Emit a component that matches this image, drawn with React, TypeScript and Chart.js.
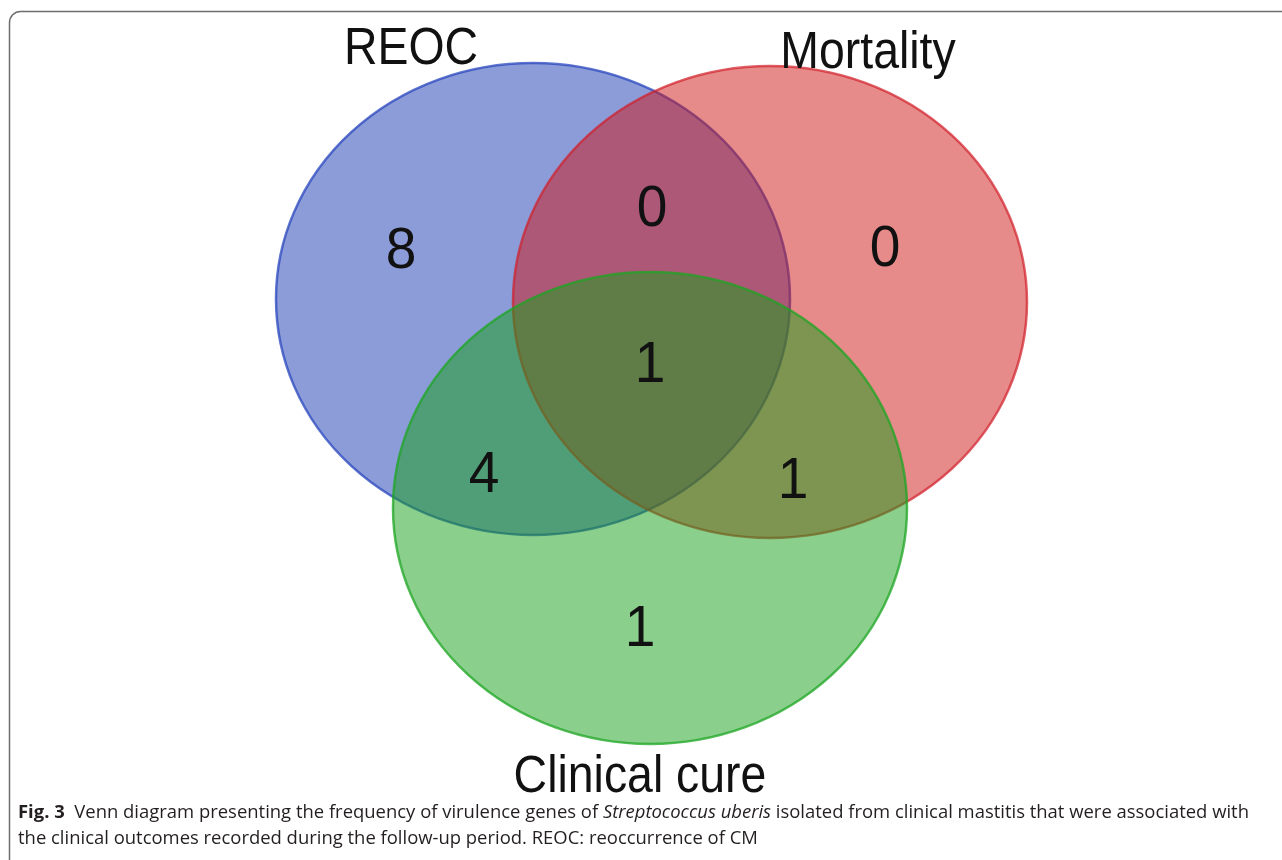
import { useEffect, useRef } from 'react';
import { Chart, registerables } from 'chart.js';

Chart.register(...registerables);

// ---- Sets (ellipses) ----
const setNames = ['REOC', 'Mortality', 'Clinical cure'];
const setCenterX = [533, 770, 650];
const setCenterY = [299, 302, 508];
const setRadiusX = [257, 257, 257];
const setRadiusY = [236, 236, 236];
const setFill = ['rgba(25,57,177,0.5)', 'rgba(205,21,21,0.5)', 'rgba(21,161,25,0.5)'];
const setStroke = ['rgba(40,70,190,0.75)', 'rgba(210,30,40,0.7)', 'rgba(30,165,35,0.75)'];
const setLabelX = [411, 868, 640];
const setLabelY = [64, 68, 792];

// ---- Regions (counts) ----
const regionNames = [
  'REOC only',
  'REOC & Mortality',
  'Mortality only',
  'REOC & Mortality & Clinical cure',
  'REOC & Clinical cure',
  'Mortality & Clinical cure',
  'Clinical cure only',
];
const regionCounts = [8, 0, 0, 1, 4, 1, 1];
const regionX = [401, 652, 885, 650, 484, 793, 640];
const regionY = [248, 206, 246, 362, 472, 478, 626];

// ---- Caption ----
const captionLine1 = [
  { text: 'Fig. 3', weight: 'bold', style: 'normal' },
  { text: '  Venn diagram presenting the frequency of virulence genes of ', weight: 'normal', style: 'normal' },
  { text: 'Streptococcus uberis', weight: 'normal', style: 'italic' },
  { text: ' isolated from clinical mastitis that were associated with', weight: 'normal', style: 'normal' },
];
const captionLine2 = [
  { text: 'the clinical outcomes recorded during the follow-up period. REOC: reoccurrence of CM', weight: 'normal', style: 'normal' },
];

const vennPlugin = {
  id: 'venn',
  beforeDatasetsDraw(chart: any) {
    const ctx = chart.ctx;
    const xs = chart.scales.x;
    const ys = chart.scales.y;
    // frame
    ctx.save();
    ctx.strokeStyle = '#6e6e6e';
    ctx.lineWidth = 1.5;
    ctx.beginPath();
    const fx = xs.getPixelForValue(9.5), fy = ys.getPixelForValue(11.5);
    const r = 11;
    ctx.moveTo(fx, fy + 870);
    ctx.lineTo(fx, fy + r);
    ctx.arcTo(fx, fy, fx + r, fy, r);
    ctx.lineTo(fx + 1400, fy);
    ctx.stroke();
    ctx.restore();

    for (let i = 0; i < setNames.length; i++) {
      const cx = xs.getPixelForValue(setCenterX[i]);
      const cy = ys.getPixelForValue(setCenterY[i]);
      const rx = Math.abs(xs.getPixelForValue(setCenterX[i] + setRadiusX[i]) - cx);
      const ry = Math.abs(ys.getPixelForValue(setCenterY[i] + setRadiusY[i]) - cy);
      ctx.save();
      ctx.beginPath();
      ctx.ellipse(cx, cy, rx, ry, 0, 0, Math.PI * 2);
      ctx.fillStyle = setFill[i];
      ctx.fill();
      ctx.lineWidth = 2.5;
      ctx.strokeStyle = setStroke[i];
      ctx.stroke();
      ctx.restore();
    }
  },
  afterDatasetsDraw(chart: any) {
    const ctx = chart.ctx;
    const xs = chart.scales.x;
    const ys = chart.scales.y;
    // set labels
    ctx.save();
    ctx.fillStyle = '#111';
    ctx.font = '51px "Liberation Sans", Arial, sans-serif';
    ctx.textAlign = 'center';
    ctx.textBaseline = 'alphabetic';
    for (let i = 0; i < setNames.length; i++) {
      ctx.save();
      ctx.translate(xs.getPixelForValue(setLabelX[i]), ys.getPixelForValue(setLabelY[i]));
      ctx.scale(0.91, 1);
      ctx.fillText(setNames[i], 0, 0);
      ctx.restore();
    }
    ctx.restore();

    // region counts, drawn at the dataset points
    const meta = chart.getDatasetMeta(0);
    ctx.save();
    ctx.fillStyle = '#111';
    ctx.font = '58px "Liberation Sans", Arial, sans-serif';
    ctx.textAlign = 'center';
    ctx.textBaseline = 'alphabetic';
    meta.data.forEach((pt: any, i: number) => {
      const t = String(regionCounts[i]);
      const m = ctx.measureText(t);
      const h = m.actualBoundingBoxAscent - m.actualBoundingBoxDescent;
      ctx.save();
      ctx.translate(pt.x, pt.y + h / 2);
      ctx.scale(0.95, 1);
      ctx.fillText(t, 0, 0);
      ctx.restore();
    });
    ctx.restore();

    // caption
    const fam = '"Open Sans", "Noto Sans", sans-serif';
    const size = 18.5;
    const startX = xs.getPixelForValue(18);
    const endX = xs.getPixelForValue(1249);
    const fontOf = (run: any) => `${run.style} ${run.weight} ${size}px ${fam}`;
    const widthOf = (runs: any[]) =>
      runs.reduce((s, run) => {
        ctx.font = fontOf(run);
        return s + ctx.measureText(run.text).width;
      }, 0);
    const scaleX = (endX - startX) / widthOf(captionLine1);
    const drawLine = (runs: any[], baseY: number) => {
      ctx.save();
      ctx.translate(startX, ys.getPixelForValue(baseY));
      ctx.scale(scaleX, 1);
      let x = 0;
      for (const run of runs) {
        ctx.font = fontOf(run);
        ctx.fillStyle = '#231f20';
        ctx.textAlign = 'left';
        ctx.textBaseline = 'alphabetic';
        ctx.fillText(run.text, x, 0);
        x += ctx.measureText(run.text).width;
      }
      ctx.restore();
    };
    drawLine(captionLine1, 818);
    drawLine(captionLine2, 844);
  },
};

export default function App() {
  const ref = useRef<HTMLCanvasElement | null>(null);
  useEffect(() => {
    if (!ref.current) return;
    const chart = new Chart(ref.current, {
      type: 'scatter',
      data: {
        datasets: [
          {
            label: 'Counts',
            data: regionCounts.map((_, i) => ({ x: regionX[i], y: regionY[i] })),
            pointRadius: 0,
            pointHoverRadius: 0,
            clip: false as any,
          },
        ],
      },
      options: {
        responsive: false,
        animation: false,
        maintainAspectRatio: false,
        layout: { padding: 0 },
        events: [],
        plugins: {
          legend: { display: false },
          tooltip: { enabled: false },
          title: { display: false },
        },
        scales: {
          x: { type: 'linear', min: 0, max: 1282, display: false },
          y: { type: 'linear', min: 0, max: 860, reverse: true, display: false },
        },
      },
      plugins: [vennPlugin],
    });
    return () => chart.destroy();
  }, []);
  return (
    <div style={{ position: 'absolute', left: 0, top: 0, width: 1282, height: 860, background: '#fff' }}>
      <canvas ref={ref} width={1282} height={860} style={{ display: 'block' }} aria-label={regionNames.join(', ')} />
    </div>
  );
}
